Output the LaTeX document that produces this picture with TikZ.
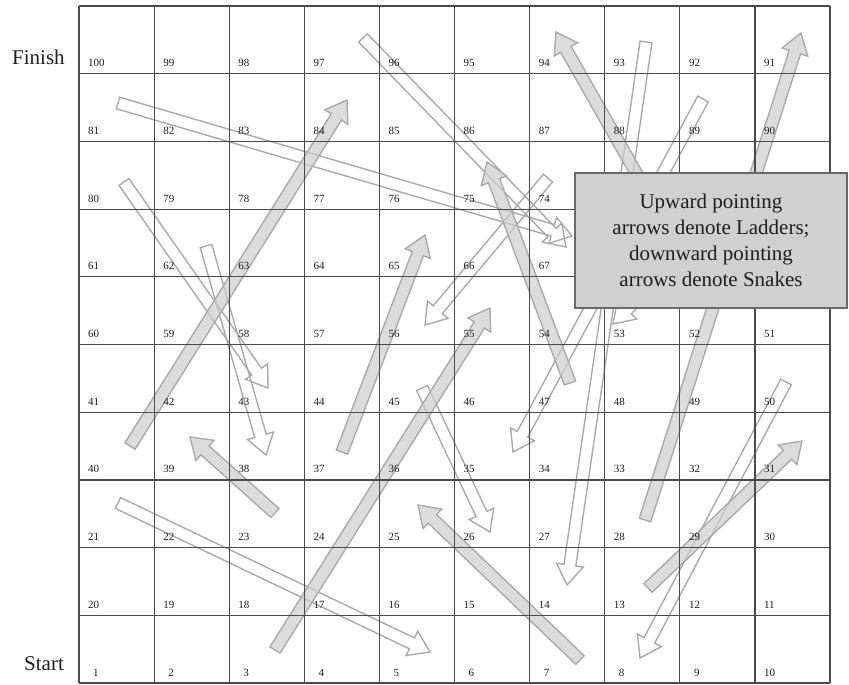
\documentclass[tikz,border=0pt]{standalone}
\usepackage{fontspec}
\setmainfont{Liberation Serif}
\definecolor{gridcol}{RGB}{75,75,75}
\definecolor{arrline}{RGB}{170,170,170}
\definecolor{ladfill}{RGB}{205,205,205}
\definecolor{boxfill}{RGB}{208,208,208}
\definecolor{boxline}{RGB}{105,105,105}
\definecolor{txtcol}{RGB}{30,30,30}
\newcommand\headlen{20}
\newcommand\boardarrow[5]{%
  \pgfmathsetmacro\arrang{atan2(#3-#5,#4-#2)}%
  \pgfmathsetmacro\arrlen{veclen(#4-#2,#5-#3)}%
  \pgfmathsetmacro\arrbase{\arrlen-\headlen}%
  \draw[#1,shift={(#2,#3)},rotate=\arrang] (0,-6) -- (\arrbase,-6) -- (\arrbase,-13.5) -- (\arrlen,0) -- (\arrbase,13.5) -- (\arrbase,6) -- (0,6) -- cycle;}
\begin{document}
\begin{tikzpicture}[x=1pt,y=-1pt,
  ladderarrow/.style={draw=arrline,line width=1.4pt,fill=ladfill,fill opacity=0.7,line join=miter},
  snakearrow/.style={draw=arrline,line width=1.4pt,line join=miter},
  gridline/.style={draw=gridcol,line width=1.2pt},
  cellnum/.style={font=\fontsize{11}{12}\selectfont,text=txtcol,inner sep=0pt,anchor=base west},
  sidelabel/.style={font=\fontsize{21}{24}\selectfont,text=txtcol,inner sep=0pt,anchor=base west},
  notebox/.style={draw=boxline,line width=1.3pt,fill=boxfill,minimum width=272pt,minimum height=135pt,align=center,text=txtcol,font=\fontsize{21}{26}\selectfont,inner sep=0pt}]
\useasboundingbox (0,0) rectangle (849,685);
% snakes
\boardarrow{snakearrow}{118}{103}{572}{236}
\boardarrow{snakearrow}{363}{38}{566}{247}
\boardarrow{snakearrow}{124}{182}{268}{388}
\boardarrow{snakearrow}{206}{246}{266}{455}
\boardarrow{snakearrow}{118}{503}{430}{652}
\boardarrow{snakearrow}{548}{178}{425}{325}
\boardarrow{snakearrow}{422}{388}{490}{532}
\boardarrow{snakearrow}{646}{42}{567}{585}
\boardarrow{snakearrow}{703}{99}{513}{452}
\boardarrow{snakearrow}{786}{382}{640}{658}
\boardarrow{snakearrow}{700}{235}{613}{324}
% ladders
\boardarrow{ladderarrow}{130}{446}{347}{100}
\boardarrow{ladderarrow}{275}{513}{190}{437}
\boardarrow{ladderarrow}{275}{650}{490}{308}
\boardarrow{ladderarrow}{342}{452}{425}{235}
\boardarrow{ladderarrow}{570}{383}{487}{162}
\boardarrow{ladderarrow}{580}{660}{418}{505}
\boardarrow{ladderarrow}{680}{250}{556}{32}
\boardarrow{ladderarrow}{645}{520}{801}{33}
\boardarrow{ladderarrow}{648}{588}{802}{441}
% grid
\foreach \i in {0,...,10}{
  \draw[gridline] ({79+75.1*\i},6) -- ({79+75.1*\i},683);
  \draw[gridline] (79,{6+67.7*\i}) -- (830,{6+67.7*\i});
}
% numbers (those under the note box are hidden)
\foreach \r in {0,...,9}{
  \foreach \c in {0,...,9}{
    \pgfmathtruncatemacro\cn{mod(\r,2)==0 ? 10*\r+\c+1 : 10*\r+10-\c}
    \pgfmathtruncatemacro\hidden{(\cn>67 && \cn<74) ? 1 : 0}
    \ifnum\hidden=0
      \pgfmathsetmacro\cx{79+75.1*\c+(\cn<10 ? 14 : 9)}
      \pgfmathsetmacro\cy{683-67.7*\r-7}
      \node[cellnum] (cell\cn) at (\cx,\cy) {\cn};
    \fi
  }
}
\node[sidelabel] (finish) at (12,65) {Finish};
\node[sidelabel] (start) at (24,670) {Start};
\node[notebox] (note) at (711,240.5) {Upward pointing\\arrows denote Ladders;\\downward pointing\\arrows denote Snakes};
\end{tikzpicture}
\end{document}
